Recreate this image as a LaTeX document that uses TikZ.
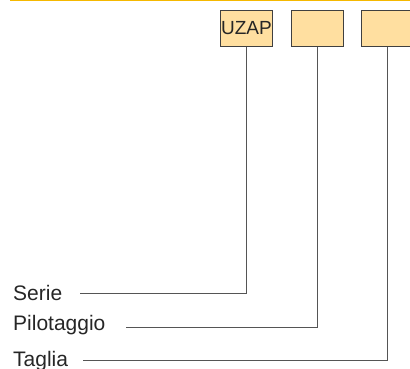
\documentclass[tikz,border=0pt]{standalone}
\usepackage{fontspec}
\setmainfont{Liberation Sans}
\definecolor{topline}{HTML}{F5B800}
\definecolor{boxfill}{HTML}{FFDFA0}
\definecolor{linegray}{HTML}{555555}
\begin{document}
\begin{tikzpicture}[x=1pt,y=-1pt,
  codebox/.style={draw=black!75,fill=boxfill,line width=0.9pt,minimum width=52pt,minimum height=36pt,inner sep=0pt,anchor=north west,font=\fontsize{19}{21}\selectfont,text=black!85},
  lbl/.style={anchor=base west,inner sep=0pt,font=\fontsize{21}{24}\selectfont,text=black!85},
  conn/.style={draw=linegray,line width=0.9pt}]
\useasboundingbox (0,0) rectangle (410,369);
\draw[topline,line width=1.2pt] (10,0.6) -- (410,0.6);
\node[codebox] (b1) at (220,10) {UZAP};
\node[codebox] (b2) at (290.5,10) {};
\node[codebox] (b3) at (361,10) {};
\node[lbl] (serie) at (13,300) {Serie};
\node[lbl] (pilot) at (13,330) {Pilotaggio};
\node[lbl] (taglia) at (13,366) {Taglia};
\coordinate (s1) at (80,293.3);
\coordinate (p1) at (126,327.7);
\coordinate (t1) at (83,360);
\draw[conn] (b1.south) |- (s1);
\draw[conn] (b2.south) |- (p1);
\draw[conn] (b3.south) |- (t1);
\end{tikzpicture}
\end{document}
